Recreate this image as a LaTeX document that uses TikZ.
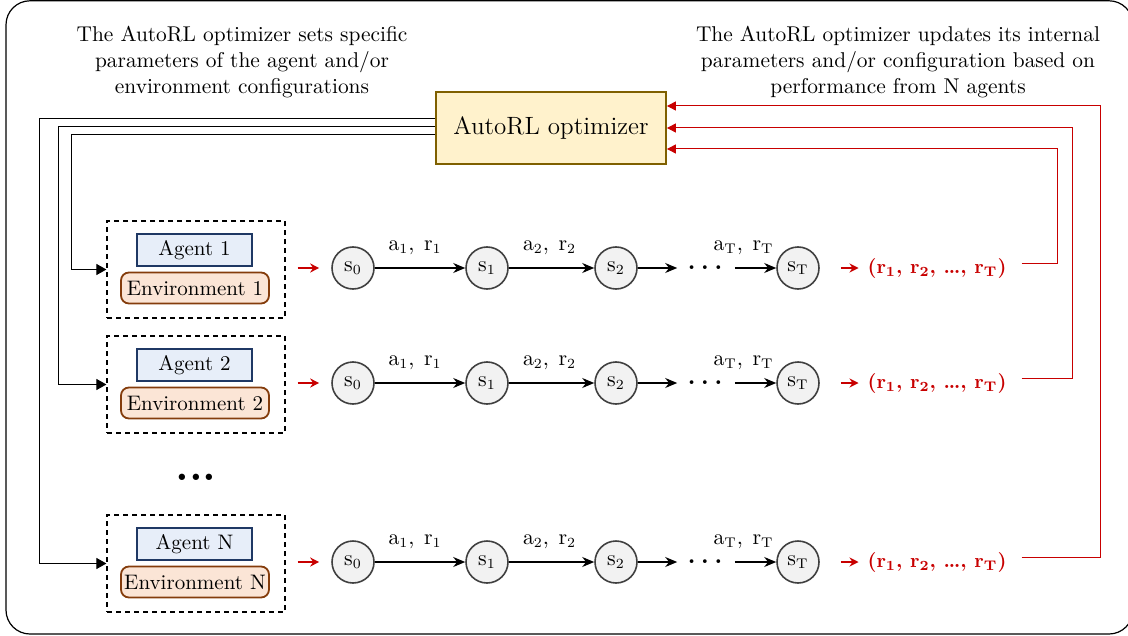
\documentclass[tikz,border=0pt]{standalone}
\usetikzlibrary{arrows.meta,calc}
\definecolor{optfill}{HTML}{FFF2CC}
\definecolor{optdraw}{HTML}{7F6000}
\definecolor{agfill}{HTML}{E7EEF9}
\definecolor{agdraw}{HTML}{1F3864}
\definecolor{envfill}{HTML}{FBE5D6}
\definecolor{envdraw}{HTML}{843C0C}
\definecolor{rwd}{HTML}{C80000}
\definecolor{stfill}{HTML}{F2F2F2}
\definecolor{stdraw}{HTML}{404040}
\newcommand{\rewardseq}{(r\textsubscript{1}, r\textsubscript{2}, \ldots, r\textsubscript{T})}
\newcommand{\rowdots}{.\kern2.6pt.\kern2.6pt.}
\begin{document}
\begin{tikzpicture}[x=0.5pt,y=-0.5pt,
  font=\fontsize{10.7}{13}\selectfont,
  optbox/.style={draw=optdraw,fill=optfill,line width=0.9pt,minimum width=115pt,minimum height=36pt,font=\fontsize{12.5}{14}\selectfont},
  agbox/.style={draw=agdraw,fill=agfill,line width=0.9pt,minimum width=57.5pt,minimum height=16pt,inner sep=1pt,font=\fontsize{10.5}{12}\selectfont},
  envbox/.style={draw=envdraw,fill=envfill,line width=0.9pt,rounded corners=4pt,minimum width=74pt,minimum height=15.5pt,inner sep=1pt,font=\fontsize{10.5}{12}\selectfont},
  grp/.style={draw,dash pattern=on 2.5pt off 2pt,line width=0.6pt,minimum width=89pt,minimum height=48.5pt},
  stnode/.style={circle,draw=stdraw,fill=stfill,line width=0.8pt,minimum size=21pt,inner sep=0pt,font=\fontsize{10.5}{12}\selectfont},
  dotnode/.style={inner sep=0pt,font=\fontsize{13}{13}\selectfont\bfseries},
  trarrow/.style={-{Stealth[length=6pt,width=5pt]},line width=0.7pt},
  ctl/.style={-{Triangle[length=5pt,width=5.5pt]},line width=0.5pt},
  rin/.style={-{Stealth[length=4.5pt,width=4.5pt]},draw=rwd,line width=0.7pt},
  fb/.style={-{Triangle[length=4.5pt,width=4.5pt]},draw=rwd,line width=0.5pt},
  lab/.style={anchor=south,yshift=6.5pt,inner sep=0pt,font=\fontsize{10.5}{12}\selectfont},
  rtext/.style={text=rwd,font=\fontsize{10}{12}\selectfont\bfseries}
]
\useasboundingbox (0,0) rectangle (1128,636);
\draw[line width=0.6pt,rounded corners=12pt] (6,0.8) rectangle (1133,634);

% explanatory captions
\node[align=center] (capL) at (242,62) {The AutoRL optimizer sets specific\\parameters of the agent and/or\\environment configurations};
\node[align=center] (capR) at (898,62) {The AutoRL optimizer updates its internal\\parameters and/or configuration based on\\performance from N agents};

% optimizer
\node[optbox] (opt) at (551,128) {AutoRL optimizer};

% ---- row 1
\node[grp] (ga) at (196,269.5) {};
\node[agbox] (aga) at (194.5,250) {Agent 1};
\node[envbox] (enva) at (195,288) {Environment 1};
\node[stnode] (saa) at (353,268) {$\mathrm{s}_0$};
\node[stnode] (sba) at (487,268) {$\mathrm{s}_1$};
\node[stnode] (sca) at (616,268) {$\mathrm{s}_2$};
\node[dotnode] (dda) at (705,268) {\rowdots};
\node[stnode] (sea) at (798,268) {$\mathrm{s}_\mathrm{T}$};
\node[rtext] (rra) at (937,268) {\rewardseq};
\draw[rin,shorten <=6pt,shorten >=6pt] (ga.east |- saa) -- (saa);
\draw[trarrow] (saa) -- node[lab,xshift=-2.5pt] {$\mathrm{a}_1,\;\mathrm{r}_1$} (sba);
\draw[trarrow] (sba) -- node[lab,xshift=-1pt] {$\mathrm{a}_2,\;\mathrm{r}_2$} (sca);
\draw[trarrow,shorten >=5pt] (sca) -- (dda);
\draw[trarrow,shorten <=6pt] (dda) -- node[lab,xshift=-3pt] {$\mathrm{a}_\mathrm{T},\;\mathrm{r}_\mathrm{T}$} (sea);
\draw[rin,shorten <=10.5pt,shorten >=1pt] (sea) -- (rra);

% ---- row 2
\node[grp] (gb) at (196,384.5) {};
\node[agbox] (agb) at (194.5,365) {Agent 2};
\node[envbox] (envb) at (195,403) {Environment 2};
\node[stnode] (sab) at (353,383) {$\mathrm{s}_0$};
\node[stnode] (sbb) at (487,383) {$\mathrm{s}_1$};
\node[stnode] (scb) at (616,383) {$\mathrm{s}_2$};
\node[dotnode] (ddb) at (705,383) {\rowdots};
\node[stnode] (seb) at (798,383) {$\mathrm{s}_\mathrm{T}$};
\node[rtext] (rrb) at (937,383) {\rewardseq};
\draw[rin,shorten <=6pt,shorten >=6pt] (gb.east |- sab) -- (sab);
\draw[trarrow] (sab) -- node[lab,xshift=-2.5pt] {$\mathrm{a}_1,\;\mathrm{r}_1$} (sbb);
\draw[trarrow] (sbb) -- node[lab,xshift=-1pt] {$\mathrm{a}_2,\;\mathrm{r}_2$} (scb);
\draw[trarrow,shorten >=5pt] (scb) -- (ddb);
\draw[trarrow,shorten <=6pt] (ddb) -- node[lab,xshift=-3pt] {$\mathrm{a}_\mathrm{T},\;\mathrm{r}_\mathrm{T}$} (seb);
\draw[rin,shorten <=10.5pt,shorten >=1pt] (seb) -- (rrb);

% ---- row N
\node[grp] (gc) at (196,563.5) {};
\node[agbox] (agc) at (194.5,544) {Agent N};
\node[envbox] (envc) at (195,582) {Environment N};
\node[stnode] (sac) at (353,562) {$\mathrm{s}_0$};
\node[stnode] (sbc) at (487,562) {$\mathrm{s}_1$};
\node[stnode] (scc) at (616,562) {$\mathrm{s}_2$};
\node[dotnode] (ddc) at (705,562) {\rowdots};
\node[stnode] (sec) at (798,562) {$\mathrm{s}_\mathrm{T}$};
\node[rtext] (rrc) at (937,562) {\rewardseq};
\draw[rin,shorten <=6pt,shorten >=6pt] (gc.east |- sac) -- (sac);
\draw[trarrow] (sac) -- node[lab,xshift=-2.5pt] {$\mathrm{a}_1,\;\mathrm{r}_1$} (sbc);
\draw[trarrow] (sbc) -- node[lab,xshift=-1pt] {$\mathrm{a}_2,\;\mathrm{r}_2$} (scc);
\draw[trarrow,shorten >=5pt] (scc) -- (ddc);
\draw[trarrow,shorten <=6pt] (ddc) -- node[lab,xshift=-3pt] {$\mathrm{a}_\mathrm{T},\;\mathrm{r}_\mathrm{T}$} (sec);
\draw[rin,shorten <=10.5pt,shorten >=1pt] (sec) -- (rrc);

\node[font=\fontsize{22}{22}\selectfont\bfseries] (vdots) at (196,477) {...};

% optimizer sets parameters of each group
\draw[ctl] ($(opt.west)+(0,7)$) -| ($(ga.west)+(-35,0)$) -- (ga.west);
\draw[ctl] ($(opt.west)+(0,-1)$) -| ($(gb.west)+(-48,0)$) -- (gb.west);
\draw[ctl] ($(opt.west)+(0,-9)$) -| ($(gc.west)+(-67,0)$) -- (gc.west);

% returns fed back to the optimizer
\draw[fb] ($(rra.east)+(8,-5)$) -| ($(opt.east)+(391,21)$) -- ($(opt.east)+(0,21)$);
\draw[fb] ($(rrb.east)+(8,-5)$) -| ($(opt.east)+(406,0)$) -- (opt.east);
\draw[fb] ($(rrc.east)+(8,-5)$) -| ($(opt.east)+(434,-22)$) -- ($(opt.east)+(0,-22)$);
\end{tikzpicture}
\end{document}
